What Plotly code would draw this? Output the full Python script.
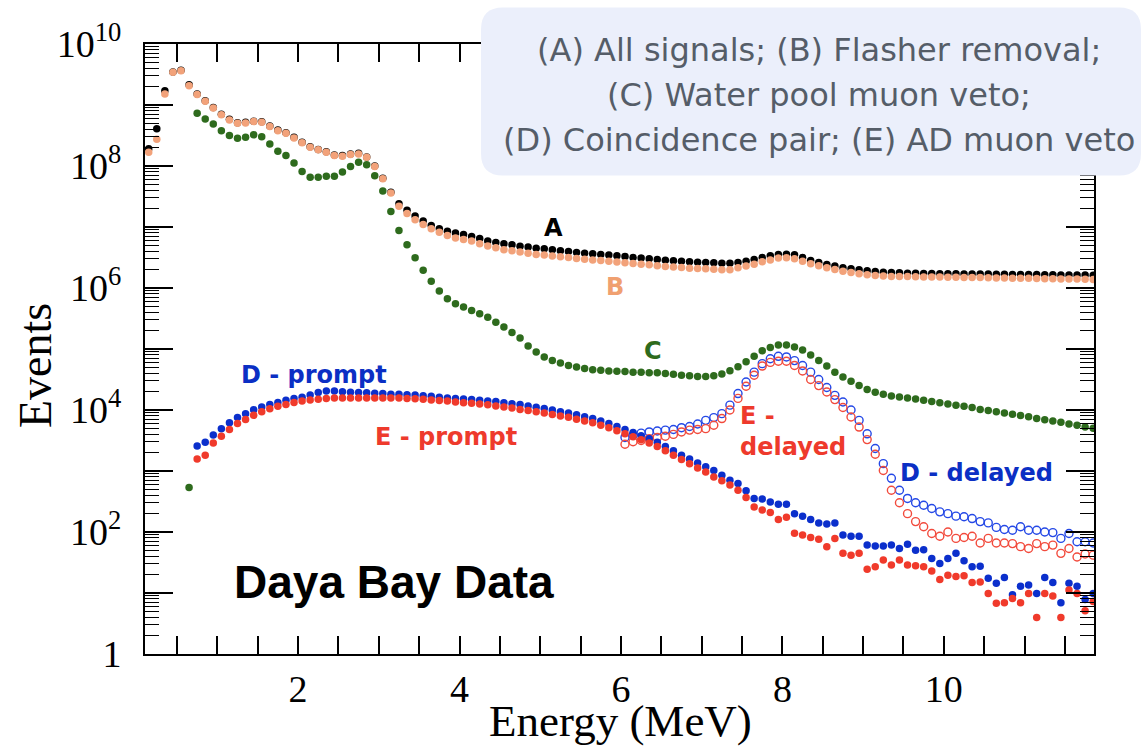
import plotly.graph_objects as go

# ---------------- data ----------------
# bin centres of the 0.1 MeV energy bins
energy = [round(0.15 + 0.1 * i, 2) for i in range(118)]

sig_A = [1.91e8, 4.07e8, 1.72e9, 3.47e9, 3.72e9, 2.14e9, 1.51e9, 1.17e9, 9.12e8, 7.08e8,
         5.82e8, 5.13e8, 5.19e8, 5.43e8, 5.31e8, 4.52e8, 3.89e8, 3.51e8, 2.95e8, 2.45e8,
         2.07e8, 1.86e8, 1.72e8, 1.51e8, 1.48e8, 1.57e8, 1.62e8, 1.41e8, 1.00e8, 6.31e7,
         3.72e7, 2.40e7, 1.88e7, 1.51e7, 1.26e7, 1.06e7, 9.33e6, 8.51e6, 7.94e6, 7.53e6,
         7.00e6, 6.46e6, 5.89e6, 5.56e6, 5.31e6, 5.13e6, 4.85e6, 4.68e6, 4.50e6, 4.40e6,
         4.24e6, 4.07e6, 3.98e6, 3.83e6, 3.73e6, 3.63e6, 3.55e6, 3.47e6, 3.37e6, 3.29e6,
         3.16e6, 3.09e6, 3.02e6, 2.94e6, 2.86e6, 2.80e6, 2.75e6, 2.69e6, 2.65e6, 2.63e6,
         2.59e6, 2.55e6, 2.55e6, 2.63e6, 2.75e6, 2.94e6, 3.16e6, 3.37e6, 3.55e6, 3.59e6,
         3.51e6, 3.16e6, 2.83e6, 2.62e6, 2.43e6, 2.29e6, 2.15e6, 2.07e6, 2.00e6, 1.92e6,
         1.86e6, 1.82e6, 1.80e6, 1.78e6, 1.75e6, 1.74e6, 1.73e6, 1.73e6, 1.72e6, 1.72e6,
         1.71e6, 1.70e6, 1.70e6, 1.69e6, 1.69e6, 1.68e6, 1.68e6, 1.67e6, 1.67e6, 1.66e6,
         1.66e6, 1.65e6, 1.65e6, 1.64e6, 1.64e6, 1.63e6, 1.63e6, 1.62e6]

sig_B = [1.68e8, 2.75e8, 1.51e9, 3.43e9, 3.66e9, 2.07e9, 1.48e9, 1.15e9, 8.91e8, 6.92e8,
         5.69e8, 5.01e8, 5.08e8, 5.35e8, 5.20e8, 4.43e8, 3.80e8, 3.44e8, 2.88e8, 2.40e8,
         2.03e8, 1.84e8, 1.68e8, 1.48e8, 1.45e8, 1.54e8, 1.58e8, 1.39e8, 9.77e7, 6.17e7,
         3.60e7, 2.19e7, 1.66e7, 1.32e7, 1.10e7, 9.33e6, 8.22e6, 7.24e6, 6.61e6, 6.24e6,
         5.89e6, 5.31e6, 4.90e6, 4.57e6, 4.22e6, 4.07e6, 3.89e6, 3.72e6, 3.55e6, 3.47e6,
         3.35e6, 3.24e6, 3.16e6, 3.05e6, 2.95e6, 2.88e6, 2.82e6, 2.75e6, 2.66e6, 2.60e6,
         2.51e6, 2.45e6, 2.40e6, 2.32e6, 2.26e6, 2.21e6, 2.16e6, 2.11e6, 2.09e6, 2.07e6,
         2.02e6, 2.00e6, 2.00e6, 2.14e6, 2.29e6, 2.45e6, 2.69e6, 2.88e6, 3.09e6, 3.13e6,
         3.02e6, 2.75e6, 2.49e6, 2.31e6, 2.15e6, 2.01e6, 1.89e6, 1.80e6, 1.71e6, 1.65e6,
         1.61e6, 1.57e6, 1.55e6, 1.54e6, 1.54e6, 1.53e6, 1.52e6, 1.52e6, 1.51e6, 1.50e6,
         1.50e6, 1.49e6, 1.48e6, 1.48e6, 1.47e6, 1.46e6, 1.46e6, 1.45e6, 1.44e6, 1.44e6,
         1.43e6, 1.42e6, 1.42e6, 1.41e6, 1.40e6, 1.40e6, 1.39e6, 1.38e6]

sig_C = [537, 7.33e8, 5.89e8, 4.90e8, 3.80e8, 3.16e8,
         2.85e8, 2.95e8, 3.24e8, 3.02e8, 2.29e8, 1.74e8, 1.48e8, 1.12e8, 8.13e7, 6.53e7,
         6.53e7, 6.76e7, 6.76e7, 7.94e7, 9.77e7, 1.15e8, 1.05e8, 6.92e7, 3.89e7, 1.79e7,
         8.77e6, 5.13e6, 3.13e6, 1.95e6, 1.29e6, 8.91e5, 6.68e5, 5.50e5, 4.90e5, 4.27e5,
         3.80e5, 3.31e5, 2.75e5, 2.29e5, 1.86e5, 1.51e5, 1.12e5, 8.91e4, 7.41e4, 6.46e4,
         5.89e4, 5.37e4, 5.07e4, 4.79e4, 4.57e4, 4.47e4, 4.37e4, 4.32e4, 4.27e4, 4.17e4,
         4.17e4, 4.07e4, 4.07e4, 3.98e4, 3.85e4, 3.72e4, 3.63e4, 3.55e4, 3.55e4, 3.63e4,
         3.89e4, 4.42e4, 5.13e4, 6.17e4, 7.59e4, 9.33e4, 1.06e5, 1.16e5, 1.16e5, 1.08e5,
         9.66e4, 7.94e4, 6.46e4, 5.25e4, 4.17e4, 3.47e4, 2.95e4, 2.51e4, 2.16e4, 1.95e4,
         1.82e4, 1.70e4, 1.64e4, 1.58e4, 1.51e4, 1.45e4, 1.38e4, 1.32e4, 1.26e4, 1.20e4,
         1.15e4, 1.10e4, 1.02e4, 9.77e3, 9.33e3, 8.91e3, 8.51e3, 8.13e3, 7.76e3, 7.24e3,
         6.92e3, 6.61e3, 6.31e3, 5.89e3, 5.62e3, 5.25e3, 5.01e3]

D_prompt = [2570, 2950, 3890, 4950, 6170, 7500, 8710, 1.01e4, 1.12e4, 1.23e4,
            1.33e4, 1.45e4, 1.55e4, 1.62e4, 1.76e4, 1.93e4, 2.04e4, 2.04e4, 2.00e4, 1.95e4,
            1.93e4, 1.91e4, 1.88e4, 1.86e4, 1.82e4, 1.81e4, 1.78e4, 1.76e4, 1.72e4, 1.68e4,
            1.62e4, 1.58e4, 1.55e4, 1.51e4, 1.48e4, 1.45e4, 1.41e4, 1.38e4, 1.32e4, 1.27e4,
            1.23e4, 1.16e4, 1.11e4, 1.06e4, 1.00e4, 9330, 8910, 8320, 7760, 7240,
            6610, 6030, 5370, 4790, 4270, 3800, 3390, 2950, 2510, 2140,
            1820, 1580, 1350, 1170, 1020, 851, 708, 624, 473, 355,
            347, 309, 286, 286, 200, 182, 160, 141, 135, 141,
            89.1, 85.1, 85.1, 61.0, 58.9, 58.9, 61.0, 53.7, 63.1, 50.1,
            51.3, 36.7, 30.5, 36.7, 44.7, 33.9, 26.9, 27.5, 17.4, 14.5,
            18.0, 9.33, 12.9, 13.5, 9.77, 18.0, 14.8, 6.92, 14.5, 12.9,
            7.85, 9.77]

E_prompt = [1580, 1820, 2880, 3720, 4790, 6030, 7000, 8220, 9330, 1.05e4,
            1.15e4, 1.23e4, 1.33e4, 1.41e4, 1.46e4, 1.50e4, 1.55e4, 1.58e4, 1.58e4, 1.58e4,
            1.58e4, 1.58e4, 1.58e4, 1.58e4, 1.58e4, 1.58e4, 1.55e4, 1.53e4, 1.50e4, 1.46e4,
            1.43e4, 1.40e4, 1.35e4, 1.32e4, 1.29e4, 1.26e4, 1.22e4, 1.16e4, 1.12e4, 1.08e4,
            1.02e4, 9770, 9330, 8910, 8410, 7940, 7590, 7080, 6610, 6170,
            5620, 5130, 4570, 4070, 3630, 3240, 2880, 2510, 2140, 1820,
            1550, 1320, 1120, 966, 794, 692, 589, 484, 367, 257,
            229, 209, 160, 174, 95.5, 89.1, 81.3, 75.9, 57.5, 78.5,
            44.7, 41.7, 44.7, 24.5, 26.9, 34.7, 28.8, 34.7, 28.8, 27.9,
            26.9, 22.9, 16.6, 19.5, 18.6, 19.1, 14.8, 15.1, 9.77, 6.76,
            6.92, 8.13, 6.92, 9.77, 3.98, 9.77, 8.91, 3.98, 11.2, 9.77,
            5.13, 7.24]

D_delayed = [3550, 3850, 4170, 4370, 4520, 4680, 4790, 5130, 5370, 5890,
             6760, 7500, 8710, 1.20e4, 1.86e4, 2.88e4, 4.17e4, 5.75e4, 6.92e4, 7.59e4,
             7.41e4, 6.46e4, 5.37e4, 4.17e4, 3.16e4, 2.34e4, 1.74e4, 1.35e4, 1.00e4, 6760,
             4070, 2340, 1320, 759, 484, 355, 302, 275, 243, 214,
             200, 182, 178, 166, 148, 141, 119, 110, 107, 122,
             107, 107, 100, 97.7, 78.5, 94.4, 69.2, 69.2, 66.1]

E_delayed = [2750, 3020, 3160, 3390, 3550, 3720, 3980, 4370, 4680, 4790,
             4950, 5620, 7240, 1.00e4, 1.55e4, 2.45e4, 3.72e4, 5.25e4, 6.03e4, 6.31e4,
             6.31e4, 5.37e4, 4.37e4, 3.16e4, 2.51e4, 1.97e4, 1.48e4, 1.10e4, 7670, 5250,
             3270, 1880, 1020, 484, 302, 200, 148, 122, 94.4, 85.1,
             100, 78.5, 81.3, 85.1, 66.1, 78.5, 66.1, 66.1, 64.6, 57.5,
             53.7, 64.6, 57.5, 61.0, 44.7, 53.7, 38.9, 43.7, 41.7]

x_tick_vals = [2, 4, 6, 8, 10]
x_tick_text = ["2", "4", "6", "8", "10"]
y_label_vals = [1, 1e2, 1e4, 1e6, 1e8, 1e10]
y_label_text = ["1", "10<sup>2</sup>", "10<sup>4</sup>", "10<sup>6</sup>",
                "10<sup>8</sup>", "10<sup>10</sup>"]
y_odd_decades = [1e1, 1e3, 1e5, 1e7, 1e9]

# ---------------- layout geometry ----------------
W, H = 1143, 746
ML, MR, MT, MB = 145, 49, 44, 92
PW = W - ML - MR
PH = H - MT - MB


def pxx(v):
    return (v - ML) / PW


def pxy(v):
    return (H - MB - v) / PH


def xs(arr):
    return energy[len(energy) - len(arr):]


COL_A = "#000000"
COL_B = "#f2a27a"
COL_C = "#2e6b1d"
COL_D = "#0b2fcc"
COL_E = "#f03a2b"

fig = go.Figure()
fig.add_trace(go.Scatter(x=xs(sig_A), y=sig_A, mode="markers",
                         marker=dict(color=COL_A, size=7.5), name="A"))
fig.add_trace(go.Scatter(x=xs(sig_B), y=sig_B, mode="markers",
                         marker=dict(color=COL_B, size=7.5), name="B"))
fig.add_trace(go.Scatter(x=xs(sig_C), y=sig_C, mode="markers",
                         marker=dict(color=COL_C, size=7.5), name="C"))
fig.add_trace(go.Scatter(x=xs(D_delayed), y=D_delayed, mode="markers",
                         marker=dict(color="#2448e6", size=8, symbol="circle-open",
                                     line=dict(width=1.4)), name="D - delayed"))
fig.add_trace(go.Scatter(x=xs(E_delayed), y=E_delayed, mode="markers",
                         marker=dict(color="#f24a3c", size=8, symbol="circle-open",
                                     line=dict(width=1.4)), name="E - delayed"))
fig.add_trace(go.Scatter(x=xs(D_prompt), y=D_prompt, mode="markers",
                         marker=dict(color=COL_D, size=7.5), name="D - prompt"))
fig.add_trace(go.Scatter(x=xs(E_prompt), y=E_prompt, mode="markers",
                         marker=dict(color=COL_E, size=7.5), name="E - prompt"))
# invisible carrier trace for the overlay axis that draws the long odd-decade ticks
fig.add_trace(go.Scatter(x=[energy[0]], y=[sig_A[0]], mode="markers", yaxis="y2",
                         marker=dict(opacity=0, size=1), hoverinfo="skip"))

tfont = dict(family="Liberation Serif", size=38, color="black")

fig.update_layout(
    xaxis=dict(range=[0.104, 11.86], tickmode="array", tickvals=x_tick_vals,
               ticktext=x_tick_text, ticks="inside", ticklen=18, tickwidth=1.5,
               tickcolor="black", ticklabelstandoff=0,
               showline=True, linecolor="black", linewidth=2, mirror="allticks",
               showgrid=False, zeroline=False, tickfont=tfont,
               minor=dict(ticks="inside", ticklen=9, tickwidth=1.5, tickcolor="black",
                          dtick=0.5, tick0=0, showgrid=False)),
    yaxis=dict(type="log", range=[0, 10], tickmode="array", tickvals=y_label_vals,
               ticktext=y_label_text, ticks="inside", ticklen=28, tickwidth=1.5,
               tickcolor="black", ticklabelstandoff=14,
               showline=True, linecolor="black", linewidth=2, mirror="allticks",
               showgrid=False, zeroline=False, tickfont=tfont,
               minor=dict(ticks="inside", ticklen=14, tickwidth=1.3, tickcolor="black",
                          dtick="D1", showgrid=False)),
    yaxis2=dict(type="log", range=[0, 10], overlaying="y", side="left", anchor="x",
                tickmode="array", tickvals=y_odd_decades, showticklabels=False,
                ticks="inside", ticklen=28, tickwidth=1.5, tickcolor="black",
                showline=False, mirror="allticks", showgrid=False, zeroline=False),
)

# rounded legend-like box
x0, x1 = pxx(481), pxx(1141)
yt, yb = pxy(7.5), pxy(175.5)
rx, ry = 22 / PW, 22 / PH
path = (f"M {x0 + rx},{yt} L {x1 - rx},{yt} Q {x1},{yt} {x1},{yt - ry} "
        f"L {x1},{yb + ry} Q {x1},{yb} {x1 - rx},{yb} L {x0 + rx},{yb} "
        f"Q {x0},{yb} {x0},{yb + ry} L {x0},{yt - ry} Q {x0},{yt} {x0 + rx},{yt} Z")
fig.add_shape(type="path", xref="paper", yref="paper", path=path,
              fillcolor="#ebeffb", line=dict(width=0), layer="above")

annotations = []
box_lines = [("(A) All signals; (B) Flasher removal;", 50),
             ("(C) Water pool muon veto;", 95),
             ("(D) Coincidence pair; (E) AD muon veto", 140)]
for txt, yc in box_lines:
    annotations.append(dict(text=txt, xref="paper", yref="paper", x=pxx(819), y=pxy(yc),
                            xanchor="center", yanchor="middle", showarrow=False,
                            font=dict(family="DejaVu Sans", size=32, color="#555d68")))

lab_font = "DejaVu Sans"
labels = [("<b>A</b>", 5.16, 6.98, COL_A),
          ("<b>B</b>", 5.93, 6.01, "#f0a070"),
          ("<b>C</b>", 6.40, 4.97, COL_C),
          ("<b>D - prompt</b>", 2.20, 4.58, "#0b2fc4"),
          ("<b>E - prompt</b>", 3.83, 3.56, "#ee3a2c"),
          ("<b>D - delayed</b>", 10.41, 2.96, "#0b2fc4")]
for txt, xv, yv, col in labels:
    annotations.append(dict(text=txt, xref="x", yref="y", x=xv, y=yv, xanchor="center",
                            yanchor="middle", showarrow=False,
                            font=dict(family=lab_font, size=24, color=col)))
annotations.append(dict(text="<b>E -</b><br><b>delayed</b>", xref="x", yref="y",
                        x=7.45, y=3.64, xanchor="left", yanchor="middle", align="left",
                        showarrow=False,
                        font=dict(family=lab_font, size=24, color="#ee3a2c")))

annotations.append(dict(text="<b>Daya Bay Data</b>", xref="paper", yref="paper",
                        x=pxx(394), y=pxy(582), xanchor="center", yanchor="middle",
                        showarrow=False,
                        font=dict(family="Liberation Sans", size=46, color="black")))

annotations.append(dict(text="Energy (MeV)", xref="paper", yref="paper",
                        x=pxx(620), y=pxy(721), xanchor="center", yanchor="middle",
                        showarrow=False,
                        font=dict(family="Liberation Serif", size=45, color="black")))
annotations.append(dict(text="Events", xref="paper", yref="paper",
                        x=pxx(35), y=pxy(366), xanchor="center", yanchor="middle",
                        textangle=-90, showarrow=False,
                        font=dict(family="Liberation Serif", size=46, color="black")))

fig.update_layout(width=W, height=H, autosize=False,
                  margin=dict(l=ML, r=MR, t=MT, b=MB, pad=0),
                  plot_bgcolor="white", paper_bgcolor="white",
                  showlegend=False, annotations=annotations,
                  font=dict(family="Liberation Serif", color="black"))

fig.write_html("out.html")
